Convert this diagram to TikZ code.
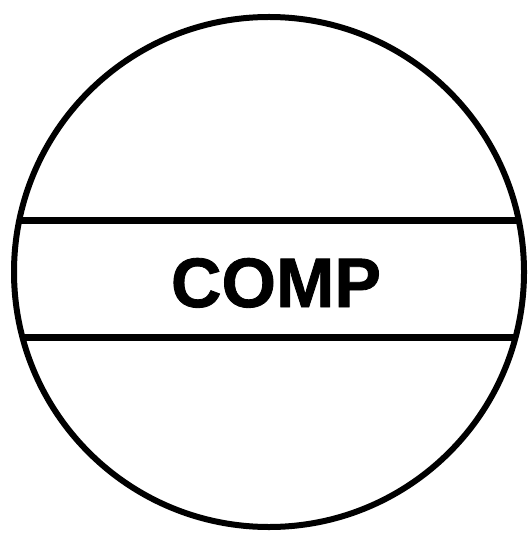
\documentclass[tikz,border=0pt]{standalone}
\usepackage{fontspec}
\setmainfont{Liberation Sans}
\newfontfamily\heavysans[FakeBold=1.2]{Liberation Sans Bold}
\usetikzlibrary{calc}
\begin{document}
\begin{tikzpicture}[x=1pt,y=-1pt,
  outline/.style={line width=6pt,draw=black},
  chord/.style={line width=7pt,draw=black},
  label/.style={font=\fontsize{70}{70}\selectfont\heavysans,inner sep=0pt,anchor=base}]
\useasboundingbox (0,0) rectangle (527,534);
\node[circle,outline,minimum size=510pt,inner sep=0pt,outer sep=0pt] (disc) at (269,272) {};
\coordinate (aL) at ($(disc.center)+(-249.8,-51)$);
\coordinate (aR) at ($(disc.center)+(249.8,-51)$);
\coordinate (bL) at ($(disc.center)+(-246.6,65)$);
\coordinate (bR) at ($(disc.center)+(246.6,65)$);
\draw[chord] (aL) -- (aR);
\draw[chord] (bL) -- (bR);
\node[label] (comp) at (276,307) {COMP};
\end{tikzpicture}
\end{document}
